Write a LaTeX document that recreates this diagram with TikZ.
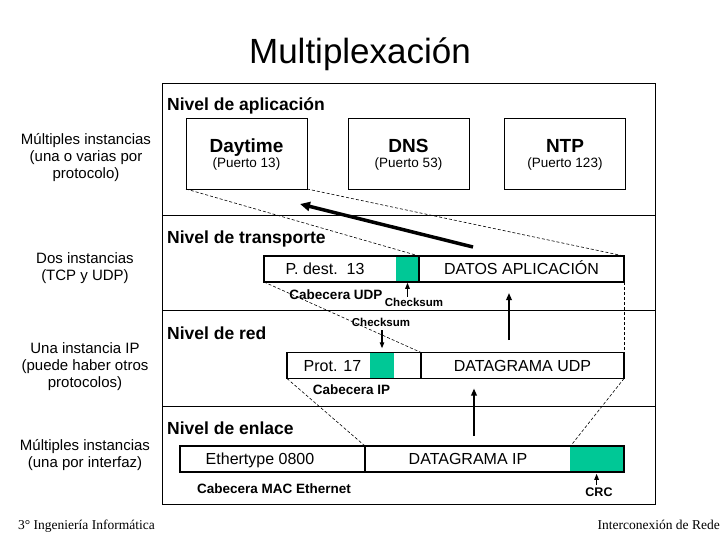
\documentclass[tikz,border=0pt]{standalone}
\usepackage{fontspec}
\setmainfont{Liberation Sans}
\newfontfamily\footerfont{Liberation Serif}
\usetikzlibrary{arrows.meta}
\definecolor{ckgreen}{RGB}{0,200,150}

\begin{document}
\begin{tikzpicture}[x=1pt,y=-1pt,
  frameline/.style={line width=0.8pt},
  appbox/.style={draw,line width=0.9pt,minimum width=121pt,minimum height=71pt,outer sep=0pt},
  field/.style={draw,line width=1.5pt,minimum height=26pt,inner sep=0pt,outer sep=0pt,
    text height=11.5pt,text depth=0pt,font=\fontsize{16}{19}\selectfont},
  ckfield/.style={fill=ckgreen,minimum height=24.5pt,inner sep=0pt,outer sep=0pt},
  laylabel/.style={anchor=base west,inner sep=0pt,font=\bfseries\fontsize{17.5}{20}\selectfont},
  sidelabel/.style={align=center,inner sep=0pt,font=\fontsize{15}{17}\selectfont},
  appname/.style={anchor=base,inner sep=0pt,font=\bfseries\fontsize{19}{22}\selectfont},
  appport/.style={anchor=base,inner sep=0pt,font=\fontsize{13.5}{16}\selectfont},
  pkttext/.style={anchor=base,inner sep=0pt,font=\fontsize{16}{19}\selectfont},
  hdrnote/.style={anchor=base,inner sep=0pt,font=\bfseries\fontsize{13.5}{16}\selectfont},
  cknote/.style={anchor=base,inner sep=0pt,font=\bfseries\fontsize{11.5}{13}\selectfont},
  footer/.style={anchor=base,inner sep=0pt,font=\footerfont\fontsize{13.5}{15}\selectfont},
  encap/.style={dash pattern=on 3pt off 2pt,line width=0.6pt},
  ptr/.style={line width=1.2pt,-{Triangle[length=6pt,width=4.5pt]}},
  uparrow/.style={line width=1.6pt,-{Triangle[length=7pt,width=5.5pt]}},
  bigarrow/.style={line width=3.5pt,-{Triangle[length=10pt,width=9pt]}}]
  \useasboundingbox (0,0) rectangle (720,540);

  \node[anchor=base,inner sep=0pt,font=\fontsize{35}{42}\selectfont] (title) at (360,64) {Multiplexación};

  % marco y niveles
  \draw[frameline] (162,83) rectangle (655,504);
  \draw[frameline] (162,215) -- (655,215);
  \draw[frameline] (162,310.5) -- (655,310.5);
  \draw[frameline] (162,406.5) -- (655,406.5);
  \node[laylabel] (appl) at (167,111) {Nivel de aplicación};
  \node[laylabel] (transl) at (167,243.5) {Nivel de transporte};
  \node[laylabel] (redl) at (167,339) {Nivel de red};
  \node[laylabel] (enll) at (167,434.5) {Nivel de enlace};

  \node[sidelabel] (appinst) at (86,158) {Múltiples instancias\\(una o varias por\\protocolo)};
  \node[sidelabel] (transinst) at (85,268) {Dos instancias\\(TCP y UDP)};
  \node[sidelabel] (redinst) at (85,367) {Una instancia IP\\(puede haber otros\\protocolos)};
  \node[sidelabel] (enlinst) at (85,455) {Múltiples instancias\\(una por interfaz)};

  % aplicaciones
  \node[appbox] (daytime) at (246.5,153.5) {};
  \node[appbox] (dns) at (408.5,153.5) {};
  \node[appbox] (ntp) at (565,153.5) {};
  \node[appname] (daytimen) at (246.5,153) {Daytime};
  \node[appport] (daytimep) at (246.5,168) {(Puerto 13)};
  \node[appname] (dnsn) at (408.5,153) {DNS};
  \node[appport] (dnsp) at (408.5,168) {(Puerto 53)};
  \node[appname] (ntpn) at (565,153) {NTP};
  \node[appport] (ntpp) at (565,168) {(Puerto 123)};

  % UDP
  \node[field,minimum width=155pt] (udphdr) at (341.5,269) {};
  \node[ckfield,minimum width=23pt] (udpck) at (407.5,269) {};
  \node[field,minimum width=205pt] (udpdata) at (521.5,269) {DATOS APLICACIÓN};
  \node[pkttext] (pdest) at (325,274.75) {P. dest.\ \ 13};
  \node[hdrnote] (cabudp) at (336,299) {Cabecera UDP};
  \node[cknote] (ckudp) at (414,306.5) {Checksum};

  % IP
  \node[field,minimum width=134pt] (iphdr) at (354,365.5) {};
  \node[ckfield,minimum width=24pt] (ipck) at (382,365.5) {};
  \node[field,minimum width=203pt] (ipdata) at (522.5,365.5) {DATAGRAMA UDP};
  \node[pkttext] (prot) at (332.5,371.25) {Prot. 17};
  \node[cknote] (ckip) at (381,326) {Checksum};
  \node[hdrnote] (cabip) at (351.5,394.3) {Cabecera IP};

  % Ethernet
  \node[field,minimum width=185pt] (ethhdr) at (272.5,459) {};
  \node[field,minimum width=259pt] (ethdata) at (494.5,459) {};
  \node[ckfield,minimum width=53.25pt] (ethck) at (596.6,459) {};
  \node[pkttext] (ethtype) at (260,464.75) {Ethertype 0800};
  \node[pkttext] (dgip) at (468,464.75) {DATAGRAMA IP};
  \node[hdrnote] (cabmac) at (274,493.3) {Cabecera MAC Ethernet};
  \node[cknote,font=\bfseries\fontsize{12.5}{14}\selectfont] (crc) at (599,496) {CRC};

  % encapsulado
  \draw[encap] (daytime.south west) -- (udpdata.north west);
  \draw[encap] (daytime.south east) -- (udpdata.north east);
  \draw[encap] (udphdr.south west) -- (ipdata.north west);
  \draw[encap] (udpdata.south east) -- (ipdata.north east);
  \draw[encap] (iphdr.south west) -- (ethdata.north west);
  \draw[encap] (ipdata.south east) -- (ethck.north west);

  \draw[ptr,shorten <=1pt,shorten >=1.5pt] (udpck.south |- ckudp.north) -- (udpck.south);
  \draw[ptr,shorten <=4pt,shorten >=5pt] (ckip.south -| ipck.north) -- (ipck.north);
  \draw[ptr,shorten <=2pt,shorten >=2.5pt] (ethck.south |- crc.north) -- (ethck.south);

  \coordinate (ipup) at (509,340);
  \coordinate (ethup) at (474,436);
  \draw[uparrow,shorten >=11pt] (ipup) -- (ipup |- udpdata.south);
  \draw[uparrow,shorten >=10pt] (ethup) -- (ethup |- ipdata.south);

  \coordinate (encapfrom) at (473,247);
  \coordinate (encapto) at (300,204);
  \draw[bigarrow] (encapfrom) -- (encapto);

  \node[footer,anchor=base west] (curso) at (18,529.5) {3° Ingeniería Informática};
  \node[footer,anchor=base east] (asig) at (720,529.5) {Interconexión de Rede};
\end{tikzpicture}
\end{document}
